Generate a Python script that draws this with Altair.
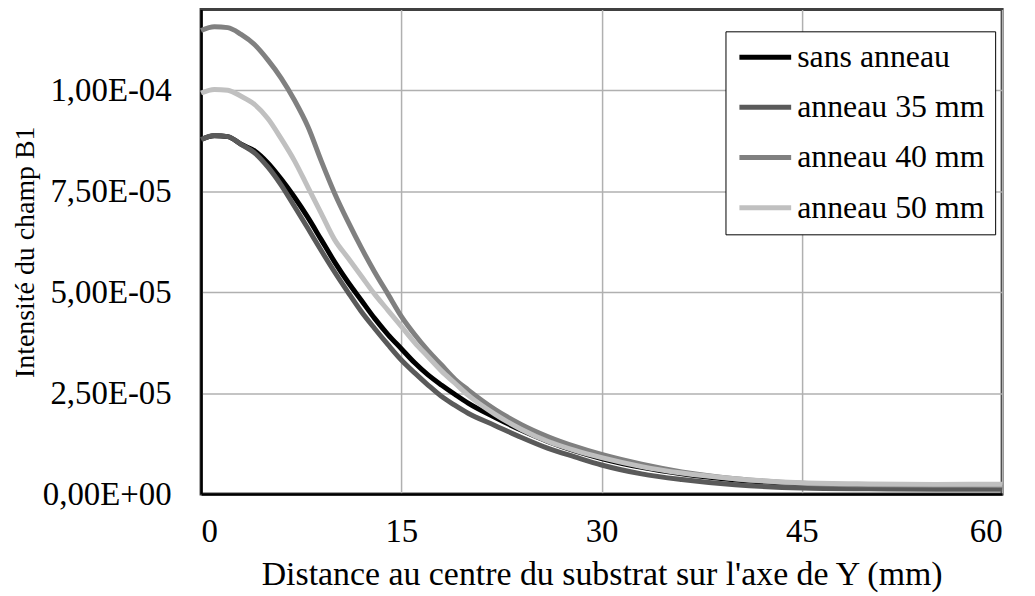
import altair as alt
import pandas as pd

series_names = ["sans anneau", "anneau 35 mm", "anneau 40 mm", "anneau 50 mm"]
series_colors = ["#000000", "#5a5a5a", "#808080", "#c0c0c0"]

x_mm = [0, 1, 2, 3, 4, 5, 6, 7, 8, 9, 10, 11, 12, 13, 14, 15, 16, 17, 18, 19, 20,
        22, 24, 26, 28, 30, 33, 36, 40, 45, 50, 55, 60]

sans_anneau = [8.78, 8.87, 8.85, 8.66, 8.5, 8.2, 7.8, 7.35, 6.85, 6.3, 5.75, 5.25, 4.8, 4.35,
               3.95, 3.6, 3.25, 2.95, 2.7, 2.47, 2.25, 1.9, 1.58, 1.3, 1.07, 0.88, 0.66,
               0.5, 0.35, 0.25, 0.2, 0.18, 0.17]
anneau_35 = [8.78, 8.88, 8.85, 8.66, 8.45, 8.1, 7.65, 7.12, 6.58, 6.03, 5.5, 5.0, 4.52, 4.1,
             3.7, 3.32, 3.0, 2.7, 2.42, 2.2, 2.0, 1.7, 1.4, 1.13, 0.92, 0.72, 0.5,
             0.36, 0.23, 0.15, 0.13, 0.12, 0.12]
anneau_40 = [11.48, 11.57, 11.55, 11.38, 11.13, 10.75, 10.3, 9.75, 9.1, 8.25, 7.45, 6.75, 6.1,
             5.5, 4.95, 4.4, 3.95, 3.55, 3.2, 2.85, 2.58, 2.1, 1.72, 1.42, 1.18, 0.98, 0.74,
             0.55, 0.38, 0.27, 0.23, 0.22, 0.21]
anneau_50 = [9.93, 10.02, 10.0, 9.85, 9.65, 9.3, 8.8, 8.25, 7.6, 6.95, 6.3, 5.85, 5.4, 4.95,
             4.55, 4.15, 3.75, 3.4, 3.05, 2.75, 2.45, 1.98, 1.6, 1.3, 1.08, 0.9, 0.68,
             0.52, 0.38, 0.28, 0.25, 0.24, 0.24]

scale_unit = 1e-5
y_ticks = [0, 2.5e-5, 5e-5, 7.5e-5, 1e-4]
x_ticks = [0, 15, 30, 45, 60]

rows = []
for order, (name, vals) in enumerate(zip(series_names, [sans_anneau, anneau_35, anneau_40, anneau_50])):
    for xv, yv in zip(x_mm, vals):
        rows.append({"x": xv, "y": yv * scale_unit, "serie": name, "ordre": order})
df = pd.DataFrame(rows)

font = "Liberation Serif"

label_expr = (
    "datum.value == 0 ? '0,00E+00' : "
    "replace(format(datum.value / pow(10, floor(log(datum.value)/LN10 + 1e-9)), '.2f'), '.', ',')"
    " + 'E-' + format(-floor(log(datum.value)/LN10 + 1e-9), '02d')"
)

chart = alt.Chart(df).mark_line(strokeWidth=5, interpolate="monotone").encode(
    x=alt.X("x:Q",
            scale=alt.Scale(domain=[0, 60], nice=False, zero=False),
            axis=alt.Axis(values=x_ticks, title="Distance au centre du substrat sur l'axe de Y (mm)",
                          labelPadding=22, titlePadding=9, titleFontSize=34, grid=True)),
    y=alt.Y("y:Q",
            scale=alt.Scale(domain=[0, 1.2e-4], nice=False),
            axis=alt.Axis(values=y_ticks, labelExpr=label_expr, title="Intensité du champ B1",
                          labelPadding=30, titlePadding=3, titleFontSize=28, grid=True)),
    color=alt.Color("serie:N",
                    scale=alt.Scale(domain=series_names, range=series_colors),
                    legend=alt.Legend(title=None, orient="none", legendX=527, legendY=22,
                                      symbolType="M-2,0H2", symbolSize=676, symbolStrokeWidth=5,
                                      symbolOffset=14, labelOffset=16,
                                      labelFont=font, labelFontSize=32, labelColor="black",
                                      rowPadding=18.4, padding=10,
                                      strokeColor="black", fillColor="white",
                                      labelLimit=400)),
    order=alt.Order("ordre:Q"),
).properties(
    width=805,
    height=487,
    autosize=alt.AutoSizeParams(type="none"),
    padding={"left": 194, "top": 0, "right": 25, "bottom": 100},
).configure_view(
    stroke="#404040", strokeWidth=3
).configure_axis(
    labelFont=font, labelFontSize=33, labelColor="black",
    titleFont=font, titleColor="black", titleFontWeight="normal",
    domainColor="black", domainWidth=2.5, ticks=False,
    gridColor="#b0b0b0", gridWidth=1.5,
)

chart.save("out.html", embed_options={"renderer": "svg", "actions": False})
